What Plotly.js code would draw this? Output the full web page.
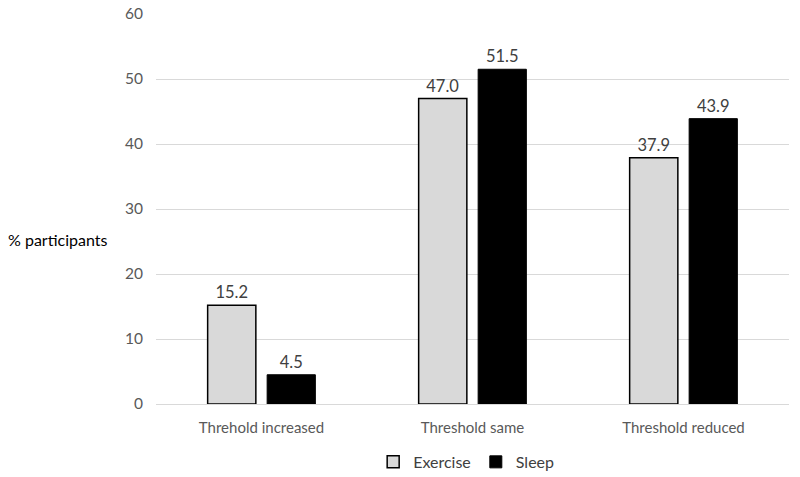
<!DOCTYPE html>
<html><head><meta charset="utf-8">
<script src="https://cdn.plot.ly/plotly-3.0.1.min.js"></script>
<style>html,body{margin:0;padding:0;background:#fff}</style>
</head><body>
<div id="chart" style="width:800px;height:477px"></div>
<script>
const categories = ["Threhold increased", "Threshold same", "Threshold reduced"];
const exercise = [15.2, 47.0, 37.9];
const sleep = [4.5, 51.5, 43.9];
const yTicks = [0, 10, 20, 30, 40, 50, 60];

const font = "Lato, 'Open Sans', sans-serif";
const traces = [
  {type:"bar", name:"Exercise", x:categories, y:exercise,
   marker:{color:"#d9d9d9", line:{color:"#000", width:1.5}},
   text:exercise.map(v=>v.toFixed(1)), textposition:"outside", cliponaxis:false,
   textfont:{color:"#404040", size:16.5, family:font}},
  {type:"bar", name:"Sleep", x:categories, y:sleep,
   marker:{color:"#000000", line:{color:"#000", width:1}},
   text:sleep.map(v=>v.toFixed(1)), textposition:"outside", cliponaxis:false,
   textfont:{color:"#404040", size:16.5, family:font}}
];
const layout = {
  width:800, height:477,
  margin:{l:156, r:11, t:14, b:73, autoexpand:false},
  paper_bgcolor:"#fff", plot_bgcolor:"#fff",
  font:{family:font, color:"#595959", size:14},
  barmode:"group", bargap:0.436, bargroupgap:0.19,
  showlegend:true,
  legend:{orientation:"h", x:0.49, xanchor:"center", y:-0.105, yanchor:"top",
          font:{size:16, color:"#404040", family:font}, itemwidth:30, traceorder:"normal"},
  xaxis:{tickvals:categories, showgrid:false, showline:true, linecolor:"#d9d9d9", linewidth:1,
         ticks:"", ticklabelstandoff:10, tickfont:{size:15, color:"#595959"}},
  yaxis:{range:[0,60], tickvals:yTicks, showgrid:true, gridcolor:"#d9d9d9", gridwidth:1,
         zeroline:false, showline:false, ticks:"", ticklen:0, ticklabelstandoff:12,
         tickfont:{size:15.5, color:"#595959"}},
  annotations:[{text:"% participants", xref:"paper", yref:"paper", x:-156/633, xanchor:"left",
                y:(404-240)/390, yanchor:"middle", showarrow:false,
                font:{size:16, color:"#000", family:font}, xshift:6}]
};
Plotly.newPlot("chart", traces, layout, {displayModeBar:false, staticPlot:true});
</script>
</body></html>
